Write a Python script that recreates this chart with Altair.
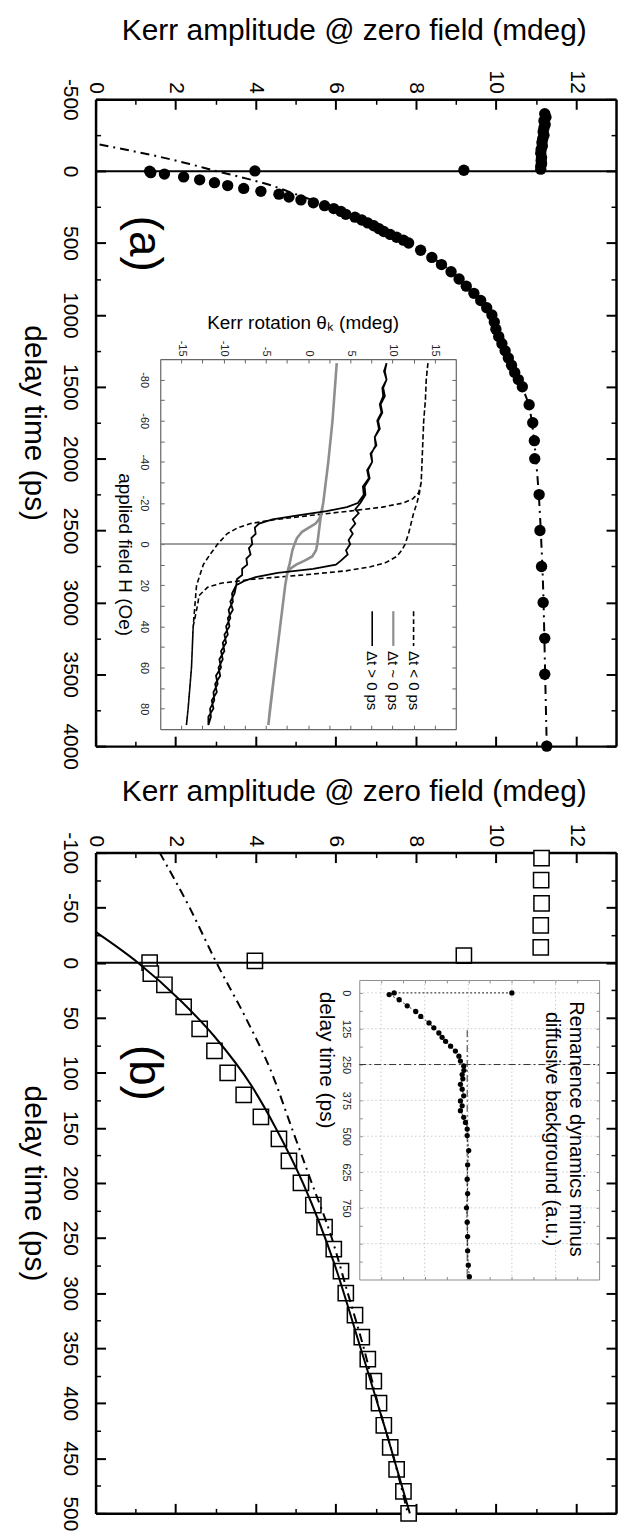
import altair as alt
import pandas as pd

FONT = "Liberation Sans"
W, HA, HB = 523, 650, 664

# ---------------- Kerr amplitude at zero field vs delay (both panels) ----------------
delay_ps = [-400, -375, -350, -325, -300, -275, -250, -225, -200, -175, -150, -125,
            -95, -75, -54, -34, -14, -6.5, -1.7, 0, 10, 20,
            40, 60, 80, 100, 120, 140, 160, 180, 200, 220, 240, 260, 280, 300,
            320, 340, 360, 380, 400, 420, 440, 460, 480, 500,
            550, 600, 650, 700, 750, 800, 850, 900, 950, 1000,
            1050, 1100, 1150, 1200, 1250, 1300, 1350, 1400, 1450, 1500,
            1625, 1750, 1875, 2000, 2250, 2500, 2750, 3000, 3250, 3500, 4000]
kerr_mdeg = [11.22, 11.25, 11.2, 11.23, 11.2, 11.18, 11.2, 11.17, 11.15, 11.16, 11.13, 11.12,
             11.14, 11.13, 11.14, 11.12, 11.12, 9.2, 3.98, 1.35, 1.38, 1.72,
             2.2, 2.6, 2.97, 3.3, 3.7, 4.13, 4.58, 4.83, 5.13, 5.44, 5.72, 5.95, 6.13, 6.25,
             6.48, 6.65, 6.8, 6.95, 7.08, 7.2, 7.36, 7.52, 7.69, 7.82,
             8.12, 8.4, 8.64, 8.88, 9.08, 9.26, 9.45, 9.62, 9.77, 9.9,
             9.96, 10.0, 10.07, 10.15, 10.23, 10.31, 10.39, 10.47, 10.56, 10.66,
             10.83, 10.92, 10.96, 10.97, 11.08, 11.1, 11.14, 11.18, 11.22, 11.22, 11.27]

# dash-dot fit (both panels)
fit_delay = [-185, -100, -50, 0, 50, 100, 150, 200, 250, 300, 350, 400, 450, 500,
             600, 700, 800, 1000, 1250, 1500, 1750, 2000, 2500, 3000, 3500, 4000]
fit_kerr = [0.1, 1.6, 2.35, 3.02, 3.75, 4.4, 4.9, 5.4, 5.9, 6.3, 6.7, 7.05, 7.45, 7.8,
            8.4, 8.9, 9.28, 9.9, 10.32, 10.66, 10.9, 11.0, 11.12, 11.19, 11.23, 11.27]

# solid fit (panel b)
fit2_delay = [-28, 0, 35, 67, 112, 150, 200, 275, 350, 425, 500]
fit2_kerr = [0, 1.06, 2.14, 2.97, 3.9, 4.5, 5.18, 5.98, 6.62, 7.25, 7.85]

# ---------------- inset (a): hysteresis loops, field (Oe) / rotation (mdeg) ----------------
neg_field = [-88, -80, -70, -60, -50, -40, -30, -25, -20, -15, -10, -5, 0, 3, 6, 9, 11, 13, 15, 17,
             19, 21, 25, 30, 40, 50, 60, 70, 80, 88,
             88, 80, 70, 60, 50, 40, 30, 25, 20, 15, 10, 5, 0, -5, -8, -10, -12, -14, -16, -18,
             -20, -22, -25, -30, -40, -50, -60, -70, -80, -88]
neg_rot = [14.2, 14.0, 13.9, 13.7, 13.6, 13.5, 13.4, 13.2, 12.9, 12.5, 12.2, 11.9, 11.5, 11.1, 10.5, 9.2, 7.4, 4.5, -0.6, -6.4,
           -10.3, -11.9, -12.9, -13.1, -13.6, -13.7, -13.8, -14.0, -14.2, -14.4,
           -14.4, -14.2, -14.0, -13.8, -13.7, -13.6, -13.4, -13.3, -13.2, -12.8, -12.4, -11.6, -10.7, -9.6, -8.3, -6.8, -3.8, 0.4, 4.8, 8.8,
           11.3, 12.4, 13.1, 13.4, 13.5, 13.6, 13.7, 13.9, 14.0, 14.2]
zero_field = [-88, -60, -40, -20, -13, -10, -5, 0, 3, 6, 8, 10, 12, 14, 20, 40, 60, 80, 88,
              88, 60, 40, 20, 14, 12, 10, 6, 3, 0, -3, -6, -8, -10, -12, -14, -20, -40, -60, -88]
zero_rot = [3.4, 2.9, 2.4, 1.8, 1.5, 1.4, 1.25, 1.1, 0.95, 0.5, -0.4, -1.4, -2.1, -2.45, -2.7, -3.3, -3.9, -4.5, -4.7,
            -4.7, -3.9, -3.3, -2.7, -2.45, -2.35, -2.2, -2.0, -1.85, -1.6, -1.3, -0.7, 0.1, 0.9, 1.3, 1.5, 1.8, 2.4, 2.9, 3.4]
pos_field = [-88, -84, -80, -76, -72, -68, -64, -60, -56, -52, -48, -44, -40, -36, -32, -28, -24, -20,
             -17, -15, -12, -10, -7, -5, -2, 0, 3, 5, 8, 10, 12, 14, 16, 18, 20,
             24, 28, 32, 36, 40, 44, 48, 52, 56, 60, 64, 68, 72, 76, 80, 84, 88,
             88, 84, 80, 76, 72, 68, 64, 60, 56, 52, 48, 44, 40, 36, 32, 28, 24, 20,
             17, 15, 12, 10, 7, 5, 2, 0, -3, -5, -8, -10, -12, -14, -16, -18, -20,
             -24, -28, -32, -36, -40, -44, -48, -52, -56, -60, -64, -68, -72, -76, -80, -84, -88]
pos_rot = [9.3, 9.0, 9.3, 8.8, 8.9, 8.5, 8.7, 8.2, 8.4, 7.9, 8.0, 7.5, 7.6, 7.1, 7.3, 6.7, 6.8, 6.2,
           5.6, 6.0, 5.3, 5.6, 5.0, 5.3, 4.8, 5.0, 4.5, 4.7, 3.9, 3.3, 0.6, -3.6, -6.2, -7.6, -8.5,
           -8.7, -9.2, -8.9, -9.5, -9.3, -9.9, -9.7, -10.3, -10.1, -10.6, -10.4, -11.0, -10.8, -11.4, -11.2, -11.8, -11.8,
           -11.8, -11.5, -11.6, -11.1, -11.2, -10.7, -10.9, -10.3, -10.5, -9.9, -10.1, -9.5, -9.7, -9.2, -9.4, -8.9, -9.0, -8.5,
           -8.4, -7.8, -7.8, -7.2, -7.3, -6.8, -7.0, -6.6, -6.7, -6.2, -6.3, -5.8, -4.2, -1.2, 2.2, 4.6, 5.9,
           6.6, 6.5, 7.2, 7.0, 7.6, 7.4, 8.1, 7.9, 8.5, 8.3, 8.8, 8.6, 9.1, 8.9, 9.3, 9.1, 9.3]
legend_labels = ["\u0394t < 0 ps", "\u0394t ~ 0 ps", "\u0394t > 0 ps"]

# ---------------- inset (b): remanence minus diffusive background ----------------
rem_delay = [0, 0, 6, 24, 45, 65, 82, 105, 122, 140, 155, 169, 186, 203, 221, 238, 255, 270, 285, 300,
             319, 336, 359, 377, 394, 411, 434, 452, 475, 498, 550, 600, 650, 700, 750, 800, 850, 900, 950, 990]
rem_amp = [7.0, 1.6, 1.37, 1.83, 2.2, 2.59, 2.82, 3.2, 3.42, 3.65, 3.8, 3.96, 4.19, 4.41, 4.57, 4.64, 4.79, 4.8, 4.72, 4.75,
           4.64, 4.72, 4.79, 4.64, 4.72, 4.64, 4.79, 4.87, 4.95, 4.95, 5.02, 4.97, 4.95, 4.97, 4.92, 4.95, 4.97, 4.97, 5.0, 5.05]
guide_delay = 250
guide_amp = 4.95
guide_amp_start = 130

# ---------------- tick values ----------------
kerr_major = [0, 2, 4, 6, 8, 10, 12]
kerr_minor = [1, 3, 5, 7, 9, 11]
a_major = list(range(-500, 4001, 500))
a_minor = list(range(-250, 4000, 500))
b_major = list(range(-100, 501, 50))
b_minor = list(range(-75, 500, 50))
rot_ticks = [v * 2.5 for v in range(-6, 7)]
field_ticks = list(range(-80, 81, 10))
remd_ticks = [v * 62.5 for v in range(0, 16)]
rema_ticks = list(range(1, 11))
remd_grid = list(range(0, 876, 125))
rema_grid = [1, 3, 5, 7, 9]

LAB = 21
TIT = 30


def tick_axis(orient, values, size, color="black", width=2.0, domain=False,
              dcolor="black", dwidth=2.5, offset=0):
    return alt.Axis(orient=orient, values=values, labels=False, ticks=True,
                    tickSize={"expr": str(-size)}, tickColor=color, tickWidth=width,
                    domain=domain, domainColor=dcolor, domainWidth=dwidth,
                    grid=False, title=None, offset=offset)


def top_lab(title_y):
    return alt.Axis(orient="top", values=kerr_major, labels=True, ticks=True,
                    tickSize={"expr": "-10"}, tickColor="black", tickWidth=2,
                    domain=True, domainColor="black", domainWidth=2.5, grid=False,
                    labelAngle=90, labelAlign="right", labelBaseline="middle", labelPadding=16,
                    labelFont=FONT, labelFontSize=LAB, labelColor="black",
                    labelFlush=False, labelOverlap=False, labelExpr="datum.value + ''",
                    title="Kerr amplitude @ zero field (mdeg)", titleFont=FONT, titleFontSize=TIT,
                    titleFontWeight="normal", titleColor="black", titleAngle=0,
                    titleAlign="center", titleBaseline="alphabetic", titleX=W / 2 - 2, titleY=title_y)


def left_lab(values, h):
    return alt.Axis(orient="left", values=values, labels=True, ticks=True,
                    tickSize={"expr": "-10"}, tickColor="black", tickWidth=2,
                    domain=True, domainColor="black", domainWidth=2.5, grid=False,
                    labelAngle=90, labelAlign="center", labelBaseline="top", labelPadding=25,
                    labelFont=FONT, labelFontSize=LAB, labelColor="black",
                    labelFlush=False, labelOverlap=False, labelExpr="datum.value + ''",
                    title="delay time (ps)", titleFont=FONT, titleFontSize=TIT,
                    titleFontWeight="normal", titleColor="black", titleAngle=90,
                    titleAlign="center", titleBaseline="middle", titleX=-62, titleY=h / 2)


xs = alt.Scale(domain=[0, 13], nice=False, zero=False)
dfK = pd.DataFrame({"delay": delay_ps, "kerr": kerr_mdeg})
dfFit = pd.DataFrame({"delay": fit_delay, "kerr": fit_kerr})
dfFit2 = pd.DataFrame({"delay": fit2_delay, "kerr": fit2_kerr})
zero_df = pd.DataFrame({"delay": [0], "k0": [0], "k1": [13]})
DASHDOT = [9, 5, 2, 5]

# ================= panel (a) =================
ysA = alt.Scale(domain=[-500, 4000], nice=False, zero=False, reverse=True)
ptsA = alt.Chart(dfK).mark_point(shape="circle", filled=True, size=130, color="black", opacity=1).encode(
    x=alt.X("kerr:Q", scale=xs, axis=top_lab(-60)),
    y=alt.Y("delay:Q", scale=ysA, axis=left_lab(a_major, HA)))
fitA = alt.Chart(dfFit).mark_line(color="black", strokeWidth=2, strokeDash=DASHDOT, interpolate="monotone").encode(
    x=alt.X("kerr:Q", scale=xs, axis=tick_axis("top", kerr_minor, 5, width=1.5)),
    y=alt.Y("delay:Q", scale=ysA, axis=tick_axis("left", a_minor, 5, width=1.5)),
    order="delay:Q")
zeroA = alt.Chart(zero_df).mark_rule(color="black", strokeWidth=2).encode(
    x=alt.X("k0:Q", scale=xs, axis=tick_axis("bottom", kerr_major, 10, domain=True)),
    x2="k1:Q",
    y=alt.Y("delay:Q", scale=ysA, axis=tick_axis("right", a_major, 10, domain=True)))
letA = alt.Chart(pd.DataFrame({"kerr": [1.22], "delay": [505], "t": ["(a)"]})).mark_text(
    angle=90, font=FONT, fontSize=46, align="center", baseline="middle", color="black").encode(
    x=alt.X("kerr:Q", scale=xs, axis=tick_axis("bottom", kerr_minor, 5, width=1.5)),
    y=alt.Y("delay:Q", scale=ysA, axis=tick_axis("right", a_minor, 5, width=1.5)),
    text="t:N")
mainA = alt.layer(ptsA, fitA, zeroA, letA).resolve_axis(x="independent", y="independent")

# ---- inset (a) ----
xsI = alt.Scale(domain=[-17.5, 17.5], range=[65, 362], nice=False, zero=False)
ysI = alt.Scale(domain=[-90, 90], range=[261, 633], nice=False, zero=False)
GR = "#666666"
I_top = alt.Axis(orient="top", values=rot_ticks, offset=-261, labels=True, ticks=True,
                 tickSize={"expr": "-4"}, tickColor=GR, tickWidth=1, domain=True, domainColor=GR,
                 domainWidth=1.2, grid=False, labelAngle=90, labelAlign="right", labelBaseline="middle",
                 labelPadding=7, labelFont=FONT, labelFontSize=11, labelColor="#222222",
                 labelFlush=False, labelOverlap=False,
                 labelExpr="datum.value % 5 == 0 ? datum.value + '' : ''",
                 title="Kerr rotation \u03b8\u2096 (mdeg)", titleFont=FONT, titleFontSize=19,
                 titleFontWeight="normal", titleColor="black", titleAlign="center",
                 titleBaseline="alphabetic", titleX=208, titleY=-31)
I_left = alt.Axis(orient="left", values=field_ticks, offset=-65, labels=True, ticks=True,
                  tickSize={"expr": "-4"}, tickColor=GR, tickWidth=1, domain=True, domainColor=GR,
                  domainWidth=1.2, grid=False, labelAngle=90, labelAlign="center", labelBaseline="top",
                  labelPadding=15, labelFont=FONT, labelFontSize=11, labelColor="#222222",
                  labelFlush=False, labelOverlap=False,
                  labelExpr="datum.value % 20 == 0 ? datum.value + '' : ''",
                  title="applied field H (Oe)", titleFont=FONT, titleFontSize=19,
                  titleFontWeight="normal", titleColor="black", titleAngle=90, titleAlign="center",
                  titleBaseline="middle", titleX=-36, titleY=457)
I_bottom = tick_axis("bottom", rot_ticks, 4, color=GR, width=1, domain=True, dcolor=GR, dwidth=1.2, offset=-17)
I_right = tick_axis("right", field_ticks, 4, color=GR, width=1, domain=True, dcolor=GR, dwidth=1.2, offset=-161)

izero = alt.Chart(pd.DataFrame({"h": [0], "t0": [-17.5], "t1": [17.5]})).mark_rule(
    color="#808080", strokeWidth=1.5).encode(
    x=alt.X("t0:Q", scale=xsI, axis=I_top), x2="t1:Q",
    y=alt.Y("h:Q", scale=ysI, axis=I_left))


def loop_df(field, rot):
    return pd.DataFrame({"h": field, "t": rot, "i": list(range(len(field)))})


negL = alt.Chart(loop_df(neg_field, neg_rot)).mark_line(color="black", strokeWidth=1.6, strokeDash=[5, 3]).encode(
    x=alt.X("t:Q", scale=xsI, axis=I_bottom), y=alt.Y("h:Q", scale=ysI, axis=I_right), order="i:Q")
zeroL = alt.Chart(loop_df(zero_field, zero_rot)).mark_line(color="#8e8e8e", strokeWidth=2.6).encode(
    x=alt.X("t:Q", scale=xsI, axis=None), y=alt.Y("h:Q", scale=ysI, axis=None), order="i:Q")
posL = alt.Chart(loop_df(pos_field, pos_rot)).mark_line(color="black", strokeWidth=1.8).encode(
    x=alt.X("t:Q", scale=xsI, axis=None), y=alt.Y("h:Q", scale=ysI, axis=None), order="i:Q")

leg_rot = [12.5, 10.1, 7.6]
leg_styles = [dict(color="black", strokeWidth=1.6, strokeDash=[5, 3]),
              dict(color="#8e8e8e", strokeWidth=2.2),
              dict(color="black", strokeWidth=1.6)]
leg_layers = []
for r, st in zip(leg_rot, leg_styles):
    leg_layers.append(alt.Chart(pd.DataFrame({"t": [r], "h0": [32.6], "h1": [49.5]})).mark_rule(**st).encode(
        x=alt.X("t:Q", scale=xsI, axis=None), y=alt.Y("h0:Q", scale=ysI, axis=None), y2="h1:Q"))
legT = alt.Chart(pd.DataFrame({"t": leg_rot, "h": [52, 52, 52], "s": legend_labels})).mark_text(
    angle=90, align="left", baseline="middle", font=FONT, fontSize=15, color="black").encode(
    x=alt.X("t:Q", scale=xsI, axis=None), y=alt.Y("h:Q", scale=ysI, axis=None), text="s:N")

insetA = alt.layer(izero, negL, zeroL, posL, *leg_layers, legT).resolve_axis(x="independent", y="independent")
panelA = alt.layer(mainA, insetA).resolve_scale(x="independent", y="independent").properties(width=W, height=HA)

# ================= panel (b) =================
ysB = alt.Scale(domain=[-100, 500], nice=False, zero=False, reverse=True)
RNG = "datum.delay >= -100 && datum.delay <= 500"
sqB = alt.Chart(dfK).transform_filter(RNG).mark_point(
    shape="square", size=235, filled=True, fill="white", stroke="black", strokeWidth=1.5, opacity=1).encode(
    x=alt.X("kerr:Q", scale=xs, axis=top_lab(-52)),
    y=alt.Y("delay:Q", scale=ysB, axis=left_lab(b_major, HB)))
solidB = alt.Chart(dfFit2).mark_line(color="black", strokeWidth=2, interpolate="monotone").encode(
    x=alt.X("kerr:Q", scale=xs, axis=tick_axis("top", kerr_minor, 5, width=1.5)),
    y=alt.Y("delay:Q", scale=ysB, axis=tick_axis("left", b_minor, 5, width=1.5)),
    order="delay:Q")
dashB = alt.Chart(dfFit).transform_filter(RNG).mark_line(
    color="black", strokeWidth=2, strokeDash=DASHDOT, interpolate="monotone").encode(
    x=alt.X("kerr:Q", scale=xs, axis=tick_axis("bottom", kerr_major, 10, domain=True)),
    y=alt.Y("delay:Q", scale=ysB, axis=tick_axis("right", b_major, 10, domain=True)),
    order="delay:Q")
zeroB = alt.Chart(zero_df).mark_rule(color="black", strokeWidth=2).encode(
    x=alt.X("k0:Q", scale=xs, axis=tick_axis("bottom", kerr_minor, 5, width=1.5)),
    x2="k1:Q",
    y=alt.Y("delay:Q", scale=ysB, axis=tick_axis("right", b_minor, 5, width=1.5)))
letB = alt.Chart(pd.DataFrame({"kerr": [1.22], "delay": [100], "t": ["(b)"]})).mark_text(
    angle=90, font=FONT, fontSize=46, align="center", baseline="middle", color="black").encode(
    x=alt.X("kerr:Q", scale=xs, axis=None), y=alt.Y("delay:Q", scale=ysB, axis=None), text="t:N")
mainB = alt.layer(sqB, solidB, dashB, zeroB, letB).resolve_axis(x="independent", y="independent")

# ---- inset (b) ----
xsJ = alt.Scale(domain=[0, 11], range=[265, 506], nice=False, zero=False)
ysJ = alt.Scale(domain=[-45, 1000], range=[128, 429], nice=False, zero=False)
GJ = "#8c8c8c"
J_left = alt.Axis(orient="left", values=remd_ticks, offset=-265, labels=True, ticks=True,
                  tickSize={"expr": "-3"}, tickColor=GJ, tickWidth=1, domain=True, domainColor=GJ,
                  domainWidth=1, grid=False, labelAngle=90, labelAlign="center", labelBaseline="top",
                  labelPadding=11, labelFont=FONT, labelFontSize=11, labelColor="#222222",
                  labelFlush=False, labelOverlap=False,
                  labelExpr="(datum.value % 125 == 0 && datum.value <= 750) ? datum.value + '' : ''",
                  title="delay time (ps)", titleFont=FONT, titleFontSize=21, titleFontWeight="normal",
                  titleColor="black", titleAngle=90, titleAlign="center", titleBaseline="middle",
                  titleX=-34, titleY=208)
J_top = tick_axis("top", rema_ticks, 3, color=GJ, width=1, domain=True, dcolor=GJ, dwidth=1, offset=-128)
J_right = tick_axis("right", remd_ticks, 3, color=GJ, width=1, domain=True, dcolor=GJ, dwidth=1, offset=-17)
J_bottom = tick_axis("bottom", rema_ticks, 3, color=GJ, width=1, domain=True, dcolor=GJ, dwidth=1, offset=-235)

GRID = dict(color="#bdbdbd", strokeWidth=0.8, strokeDash=[1.5, 2.5])
hgrid = alt.Chart(pd.DataFrame({"d": remd_grid, "a0": 0, "a1": 11})).mark_rule(**GRID).encode(
    x=alt.X("a0:Q", scale=xsJ, axis=J_top), x2="a1:Q", y=alt.Y("d:Q", scale=ysJ, axis=J_left))
vgrid = alt.Chart(pd.DataFrame({"a": rema_grid, "d0": -45, "d1": 1000})).mark_rule(**GRID).encode(
    x=alt.X("a:Q", scale=xsJ, axis=J_bottom), y=alt.Y("d0:Q", scale=ysJ, axis=J_right), y2="d1:Q")
guides = alt.Chart(pd.DataFrame({"a0": [0, guide_amp], "a1": [11, guide_amp],
                                 "d0": [guide_delay, guide_amp_start], "d1": [guide_delay, 1000]})).mark_rule(
    color="#333333", strokeWidth=1, strokeDash=[7, 3, 2, 3]).encode(
    x=alt.X("a0:Q", scale=xsJ, axis=None), x2="a1:Q", y=alt.Y("d0:Q", scale=ysJ, axis=None), y2="d1:Q")
dfR = pd.DataFrame({"d": rem_delay, "a": rem_amp, "i": list(range(len(rem_delay)))})
remL = alt.Chart(dfR).mark_line(color="black", strokeWidth=0.8, strokeDash=[2, 2]).encode(
    x=alt.X("a:Q", scale=xsJ, axis=None), y=alt.Y("d:Q", scale=ysJ, axis=None), order="i:Q")
remP = alt.Chart(dfR).mark_point(shape="circle", filled=True, size=28, color="black", opacity=1).encode(
    x=alt.X("a:Q", scale=xsJ, axis=None), y=alt.Y("d:Q", scale=ysJ, axis=None))
remT = alt.Chart(pd.DataFrame({"a": [9.95, 8.86], "d": [475, 475],
                               "t": ["Remanence dynamics minus", "diffusive background (a.u.)"]})).mark_text(
    angle=90, align="center", baseline="middle", font=FONT, fontSize=20, color="black").encode(
    x=alt.X("a:Q", scale=xsJ, axis=None), y=alt.Y("d:Q", scale=ysJ, axis=None), text="t:N")

insetB = alt.layer(hgrid, vgrid, guides, remL, remP, remT).resolve_axis(x="independent", y="independent")
panelB = alt.layer(mainB, insetB).resolve_scale(x="independent", y="independent").properties(width=W, height=HB)

chart = alt.vconcat(panelA, panelB, spacing=6).properties(
    padding={"left": 10, "top": 3, "right": 0, "bottom": 0}, background="white"
).configure_view(stroke="transparent")

chart.save("out.html", embed_options={"renderer": "svg", "actions": False})
